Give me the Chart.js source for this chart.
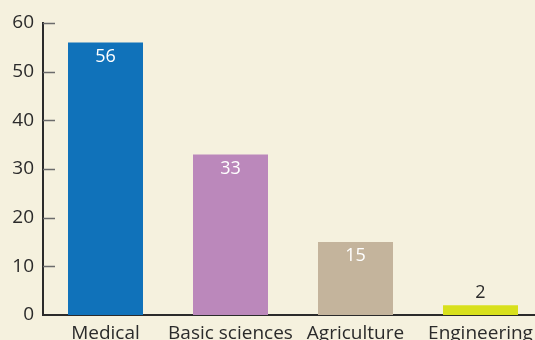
<!DOCTYPE html>
<html>
<head>
<meta charset="utf-8">
<script src="https://cdn.jsdelivr.net/npm/chart.js@4"></script>
<style>
  html, body { margin: 0; padding: 0; background: #f5f1de; overflow: hidden; }
  #wrap { width: 535px; height: 340px; overflow: hidden; }
  #barChart { display: block; }
</style>
</head>
<body>
<div id="wrap"><canvas id="barChart" width="560" height="350"></canvas></div>
<script>
Chart.defaults.font.family = "Open Sans";
Chart.defaults.font.size = 19;
Chart.defaults.color = "#2b2b2b";

const categories = ["Medical", "Basic sciences", "Agriculture", "Engineering"];
const values = [56, 33, 15, 2];
const barColors = ["#1072ba", "#bb88bb", "#c4b49c", "#d8e01c"];
const yTicks = [0, 10, 20, 30, 40, 50, 60];

// short tick marks on the inside of the y axis
const tickMarks = {
    id: "tickMarks",
    afterDatasetsDraw(chart){
        const ctx = chart.ctx;
        const y = chart.scales.y;
        const left = chart.chartArea.left;
        ctx.save();
        ctx.strokeStyle = "#6b6b6b";
        ctx.lineWidth = 1.5;
        yTicks.forEach(v => {
            if(v === 0) return;
            const py = Math.round(y.getPixelForValue(v)) + 0.5;
            ctx.beginPath();
            ctx.moveTo(left, py);
            ctx.lineTo(left + 12, py);
            ctx.stroke();
        });
        ctx.restore();
    }
};

// numbers on the bars: inside when there's room, above otherwise
const valueLabels = {
    id: "valueLabels",
    afterDatasetsDraw(chart){
        const ctx = chart.ctx;
        const meta = chart.getDatasetMeta(0);
        ctx.save();
        ctx.font = "18px 'Open Sans'";
        ctx.textAlign = "center";
        ctx.textBaseline = "middle";
        meta.data.forEach((bar, i) => {
            const h = bar.base - bar.y;
            if(h > 30){
                ctx.fillStyle = "#ffffff";
                ctx.fillText(values[i], bar.x, bar.y + 14);
            } else {
                ctx.fillStyle = "#2b2b2b";
                ctx.fillText(values[i], bar.x, bar.y - 12);
            }
        });
        ctx.restore();
    }
};

new Chart(document.getElementById("barChart"), {
    type: "bar",
    data: {
        labels: categories,
        datasets: [
            {
                data: values,
                backgroundColor: barColors,
                barPercentage: 0.6,
                categoryPercentage: 1.0,
                borderWidth: 0
            }
        ]
    },
    options: {
        responsive: false,
        animation: false,
        layout: {
            padding: { top: 23, right: 17, left: 0, bottom: 0 }
        },
        scales: {
            x: {
                grid: { display: false, drawTicks: false },
                border: { display: true, color: "#2b2b2b", width: 2 },
                ticks: { padding: 7, color: "#2b2b2b", maxRotation: 0, autoSkip: false },
                afterFit: scale => { scale.height = 35; }
            },
            y: {
                min: 0,
                max: 60,
                grid: { display: false, drawTicks: false },
                border: { display: true, color: "#2b2b2b", width: 2 },
                ticks: { stepSize: 10, padding: 9, color: "#2b2b2b" },
                afterFit: scale => { scale.width = 43; }
            }
        },
        plugins: {
            legend: { display: false },
            tooltip: { enabled: false }
        }
    },
    plugins: [tickMarks, valueLabels]
});
</script>
</body>
</html>
